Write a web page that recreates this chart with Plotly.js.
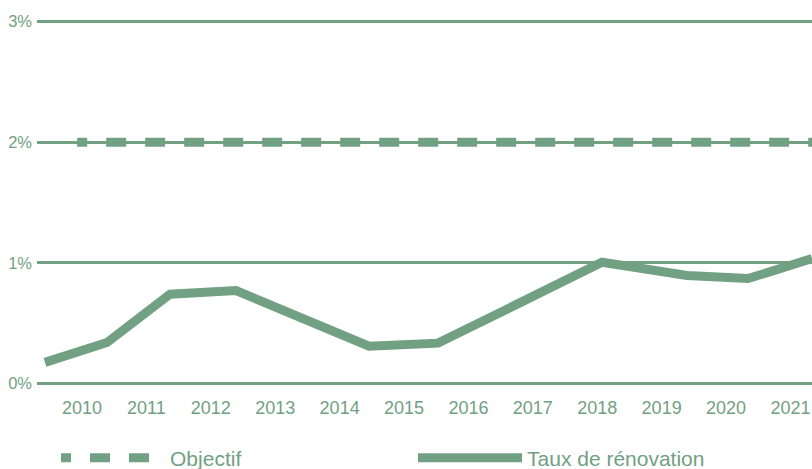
<!DOCTYPE html>
<html>
<head>
<meta charset="utf-8">
<script src="https://cdn.plot.ly/plotly-3.0.1.min.js"></script>
<style>
html,body{margin:0;padding:0;background:#fff;}
#chart{width:812px;height:469px;}
</style>
</head>
<body>
<div id="chart"></div>
<script>
// Data
var renoYears = [2009.425, 2010.388, 2011.366, 2012.391, 2014.457, 2015.528, 2018.075, 2019.394, 2020.342, 2021.335];
var renoRate  = [0.176, 0.34, 0.74, 0.77, 0.31, 0.335, 1.005, 0.895, 0.87, 1.035];
var objYears  = [2009.925, 2021.335];
var objRate   = [2, 2];
var yearTicks = [2010, 2011, 2012, 2013, 2014, 2015, 2016, 2017, 2018, 2019, 2020, 2021];
var yearLabels = ['2010','2011','2012','2013','2014','2015','2016','2017','2018','2019','2020','2021'];
var pctTicks = [0, 1, 2, 3];
var pctLabels = ['0%', '1%', '2%', '3%'];

var green = '#72a082';
var dashList = ['10px', '19px'];
for (var i = 0; i < 30; i++) { dashList.push('20px', '19px'); }

var traces = [
  {
    x: objYears, y: objRate, type: 'scatter', mode: 'lines', name: 'Objectif',
    line: {color: green, width: 9, dash: dashList.join(',')},
    hoverinfo: 'skip'
  },
  {
    x: renoYears, y: renoRate, type: 'scatter', mode: 'lines', name: 'Taux de rénovation',
    line: {color: green, width: 9},
    hoverinfo: 'skip'
  }
];

var layout = {
  width: 812, height: 469,
  margin: {l: 37, r: 0, t: 19, b: 83, pad: 0},
  paper_bgcolor: '#ffffff', plot_bgcolor: '#ffffff',
  font: {family: 'Liberation Sans, Arial, sans-serif', color: green},
  showlegend: true,
  legend: {
    orientation: 'h', x: 0.069, xanchor: 'left', xref: 'container',
    y: 0.023, yanchor: 'middle', yref: 'container',
    font: {family: 'Liberation Sans, Arial, sans-serif', size: 21, color: green},
    itemwidth: 104, entrywidth: 238, entrywidthmode: 'pixels',
    bgcolor: 'rgba(0,0,0,0)', traceorder: 'normal'
  },
  xaxis: {
    type: 'linear', range: [2009.301, 2021.335],
    tickvals: yearTicks, ticktext: yearLabels,
    showgrid: false, zeroline: false, showline: false, ticks: '',
    ticklabelstandoff: 9,
    tickfont: {family: 'Liberation Sans, Arial, sans-serif', size: 18, color: green},
    fixedrange: true
  },
  yaxis: {
    range: [-0.02, 3.02],
    tickvals: pctTicks, ticktext: pctLabels,
    showgrid: true, gridcolor: green, gridwidth: 3,
    zeroline: false, showline: false, ticks: '',
    ticklabelstandoff: 4,
    tickfont: {family: 'Liberation Sans, Arial, sans-serif', size: 16.5, color: green},
    fixedrange: true
  }
};

Plotly.newPlot('chart', traces, layout, {displayModeBar: false, staticPlot: true});
</script>
</body>
</html>
